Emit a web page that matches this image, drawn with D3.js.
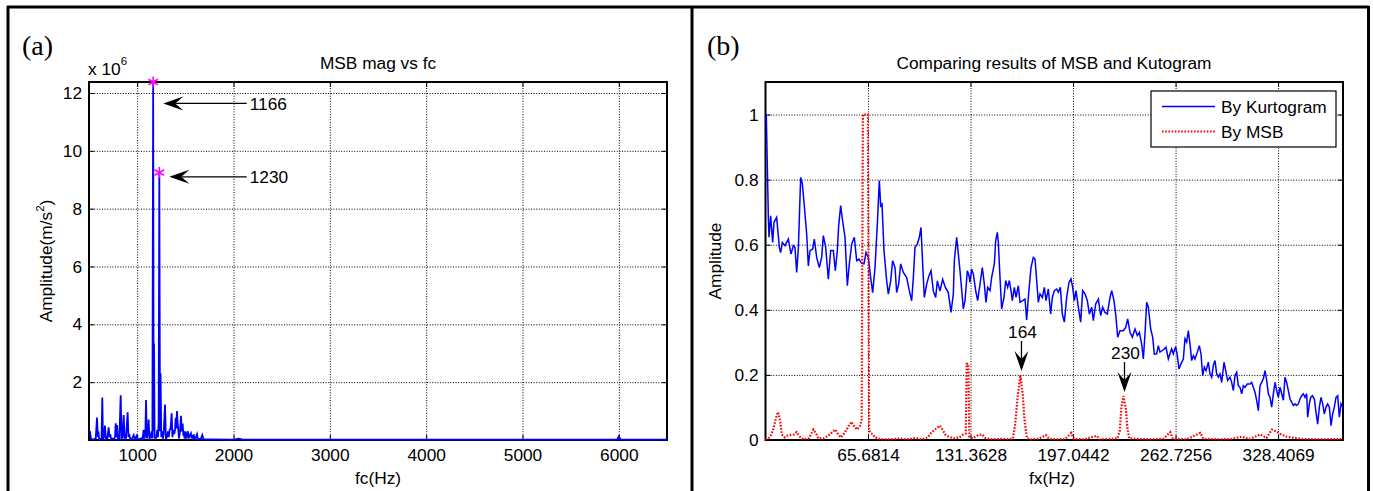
<!DOCTYPE html>
<html>
<head>
<meta charset="utf-8">
<script src="https://cdn.jsdelivr.net/npm/d3@7"></script>
<style>
  body { margin: 0; background: #fff; }
  svg { display: block; font-family: "Liberation Sans", Arial, sans-serif; font-size: 17.3px; }
</style>
</head>
<body>
<svg width="1373" height="491"></svg>
<script>
// ---- (a) MSB magnitude vs carrier frequency, values in 1e6 m/s^2 ----
const msbSpectrum = [
  [500,0.3],[510,0.29],[520,0.05],[535,0.02],[550,0.03],[570,0.05],[583,0.78],[592,0.1],[598,0.29],[605,0.02],
  [615,0.03],[630,0.05],[638,1.47],[645,0.05],[655,0.1],[666,0.5],[675,0.02],[690,0.05],[704,0.44],[712,0.1],
  [721,0.2],[730,0.02],[745,0.05],[760,0.03],[770,0.1],[777,0.58],[784,0.1],[791,0.52],[800,0.02],[815,0.05],
  [829,1.55],[838,0.05],[848,0.1],[860,0.86],[870,0.02],[885,0.08],[901,0.96],[910,0.1],[918,0.2],[928,0.02],
  [945,0.04],[964,0.17],[975,0.02],[995,0.15],[1005,0.02],[1020,0.03],[1040,0.05],[1055,0.03],[1067,0.35],[1075,0.05],
  [1085,0.2],[1092,1.38],[1100,0.05],[1110,0.2],[1119,0.71],[1128,0.05],[1140,0.1],[1150,0.3],[1158,0.05],[1166,12.38],
  [1171,0.3],[1175,3.34],[1181,0.1],[1190,0.05],[1200,0.1],[1209,0.35],[1216,0.1],[1223,0.6],[1230,9.25],[1237,0.3],
  [1243,2.3],[1250,0.1],[1258,0.3],[1266,0.05],[1275,0.2],[1289,1.23],[1298,0.05],[1310,0.1],[1320,0.3],[1328,0.1],
  [1337,0.35],[1347,0.4],[1358,0.92],[1366,0.1],[1374,0.35],[1385,0.2],[1393,0.35],[1400,0.77],[1406,0.4],[1413,1.0],
  [1420,0.6],[1427,0.35],[1434,0.05],[1445,0.3],[1455,0.84],[1463,0.3],[1472,0.57],[1480,0.15],[1486,0.2],[1493,0.05],
  [1500,0.3],[1510,0.05],[1518,0.2],[1527,0.3],[1535,0.05],[1545,0.15],[1558,0.23],[1566,0.05],[1576,0.17],[1582,0.05],
  [1586,0.2],[1596,0.03],[1608,0.08],[1621,0.2],[1630,0.03],[1645,0.04],[1660,0.03],[1676,0.17],[1690,0.02],[1750,0.02],
  [2000,0.01],[2050,0.05],[2100,0.01],[3000,0.01],[4000,0.01],[5000,0.01],[5980,0.01],[6000,0.12],[6020,0.01],[6500,0.01]
];
const peakHz = [1166, 1230];
const peakMag = [12.38, 9.25];
const fcTicks = [1000, 2000, 3000, 4000, 5000, 6000];
const magTicks = [2, 4, 6, 8, 10, 12];

// ---- (b) normalised envelope spectra ----
const kurtogram = [
  [0,1.0],[0.5,1.0],[1.82,0.684],[2.24,0.623],[3.31,0.689],[4.59,0.607],[5.45,0.669],[7.15,0.684],[8.86,0.592],[9.72,0.576],
  [10.78,0.607],[12.49,0.597],[14.63,0.617],[16.34,0.571],[17.83,0.597],[18.9,0.592],[19.97,0.515],[21.04,0.587],[22.53,0.807],[23.6,0.787],
  [24.67,0.73],[26.38,0.633],[27.44,0.535],[28.51,0.582],[30.22,0.587],[31.29,0.617],[32.78,0.561],[34.49,0.53],[35.99,0.561],[37.05,0.628],
  [38.55,0.592],[40.26,0.494],[41.75,0.582],[43.46,0.582],[44.74,0.52],[46.02,0.582],[46.88,0.658],[48.16,0.72],[49.23,0.679],[50.94,0.623],
  [52.43,0.474],[53.71,0.541],[55.21,0.602],[56.91,0.623],[58.41,0.551],[59.9,0.556],[61.61,0.543],[63.11,0.541],[64.39,0.576],[65.88,0.561],
  [67.38,0.499],[68.66,0.453],[70.16,0.53],[71.65,0.664],[72.93,0.797],[73.79,0.72],[74.64,0.725],[75.92,0.582],[77.63,0.489],[78.7,0.448],
  [80.2,0.489],[81.48,0.551],[82.97,0.53],[84.04,0.453],[85.32,0.479],[86.6,0.541],[88.31,0.515],[90.45,0.499],[92.15,0.458],[93.65,0.428],
  [94.72,0.499],[95.78,0.592],[97.28,0.602],[98.56,0.623],[99.63,0.653],[100.7,0.541],[101.76,0.438],[103.26,0.479],[104.75,0.505],[106.04,0.52],
  [107.53,0.458],[109.03,0.438],[110.09,0.489],[111.8,0.458],[113.51,0.494],[115.22,0.469],[117.14,0.453],[118.85,0.392],[120.34,0.448],[120.98,0.551],
  [122.48,0.623],[124.62,0.52],[126.75,0.403],[127.82,0.428],[129.31,0.52],[130.38,0.505],[131.02,0.484],[132.09,0.525],[133.16,0.51],[134.65,0.459],
  [135.94,0.428],[137.43,0.479],[138.92,0.53],[140.2,0.479],[141.27,0.423],[142.34,0.469],[143.84,0.459],[144.9,0.5],[146.61,0.541],[147.47,0.612],
  [148.53,0.638],[149.17,0.607],[150.24,0.5],[151.31,0.403],[152.81,0.438],[153.88,0.49],[155.16,0.469],[156.22,0.49],[157.29,0.459],[158.14,0.428],
  [159.43,0.469],[160.49,0.438],[161.99,0.474],[163.06,0.423],[164.77,0.428],[166.26,0.433],[167.33,0.369],[168.4,0.438],[170.1,0.53],[171.6,0.561],
  [172.67,0.556],[173.74,0.49],[174.8,0.423],[175.87,0.449],[177.37,0.438],[178.65,0.469],[179.72,0.428],[181.21,0.464],[182.71,0.387],[183.77,0.438],
  [185.05,0.459],[186.55,0.464],[187.62,0.454],[188.9,0.469],[190.18,0.387],[191.46,0.362],[192.96,0.438],[194.45,0.484],[195.73,0.495],[196.8,0.469],
  [197.87,0.428],[198.94,0.459],[200.43,0.408],[201.93,0.362],[203.21,0.459],[204.7,0.449],[206.2,0.428],[207.48,0.387],[208.98,0.408],[210.04,0.367],
  [211.54,0.418],[213.25,0.433],[214.74,0.382],[216.02,0.408],[217.52,0.392],[219.01,0.387],[220.72,0.438],[221.79,0.459],[223.28,0.428],[224.35,0.387],
  [225.63,0.316],[227.13,0.336],[229.26,0.336],[230.76,0.346],[232.04,0.372],[233.53,0.331],[235.03,0.316],[236.74,0.341],[238.23,0.321],[239.51,0.331],
  [241.01,0.295],[242.07,0.249],[243.14,0.326],[244.21,0.423],[245.28,0.408],[246.78,0.341],[248.06,0.316],[249.12,0.264],[250.62,0.265],[251.69,0.29],
  [252.75,0.27],[254.25,0.275],[255.53,0.28],[256.6,0.285],[258.09,0.249],[259.16,0.265],[260.23,0.28],[261.3,0.265],[262.79,0.287],[263.86,0.259],
  [264.93,0.218],[266.21,0.234],[267.7,0.249],[268.77,0.311],[269.84,0.301],[270.91,0.336],[271.98,0.295],[273.05,0.244],[274.11,0.259],[275.18,0.249],
  [276.67,0.27],[277.95,0.29],[279.02,0.265],[280.09,0.198],[281.16,0.224],[282.23,0.213],[283.72,0.239],[284.79,0.203],[285.86,0.193],[286.93,0.229],
  [288,0.244],[289.06,0.203],[290.13,0.193],[291.2,0.203],[292.27,0.177],[293.77,0.239],[294.83,0.213],[296.11,0.183],[297.6,0.193],[298.67,0.177],
  [299.74,0.152],[300.81,0.198],[301.88,0.208],[302.94,0.167],[304.01,0.162],[305.08,0.142],[306.15,0.167],[307.22,0.162],[308.71,0.172],[310.42,0.172],
  [311.49,0.177],[312.55,0.162],[313.62,0.147],[314.69,0.122],[315.76,0.09],[316.83,0.167],[317.89,0.177],[318.96,0.188],[320.03,0.213],[321.1,0.183],
  [322.17,0.142],[323.24,0.131],[324.3,0.101],[325.37,0.142],[326.44,0.177],[327.51,0.152],[328.58,0.131],[329.64,0.162],[330.71,0.142],[331.78,0.122],
  [332.84,0.193],[333.91,0.177],[334.98,0.152],[336.05,0.126],[337.12,0.116],[338.19,0.106],[339.25,0.111],[340.32,0.106],[341.39,0.111],[342.46,0.126],
  [343.53,0.136],[344.59,0.142],[345.66,0.131],[346.73,0.142],[347.37,0.07],[348.44,0.111],[349.29,0.131],[350.36,0.136],[351.64,0.126],[352.7,0.085],
  [353.77,0.049],[354.84,0.101],[355.91,0.131],[356.98,0.111],[358.04,0.08],[359.11,0.101],[360.18,0.111],[361.25,0.101],[362.32,0.044],[363.39,0.08],
  [364.45,0.101],[365.52,0.131],[366.59,0.136],[367.66,0.07],[368.72,0.111],[369.79,0.101]
];
const msbEnvelope = [
  [0,0.002],[1.8,0.004],[3.5,0.015],[4.9,0.032],[6.6,0.066],[8.05,0.086],[9.3,0.061],[10.5,0.017],[12.2,0.008],[13.8,0.013],
  [15.8,0.015],[18.2,0.017],[19.9,0.024],[21.8,0.011],[24.2,0.002],[27.8,0.005],[30.7,0.032],[32.2,0.022],[33.9,0.005],[37.5,0.005],
  [39.9,0.013],[42.3,0.022],[44.7,0.032],[46.6,0.017],[48.3,0.008],[50.7,0.022],[53.1,0.042],[55.1,0.056],[56.8,0.042],[58.7,0.032],
  [60.4,0.042],[61.6,0.06],[62.4,1.0],[65.6,1.0],[66.4,0.03],[67.6,0.02],[68.8,0.018],[70,0.008],[73.7,0.002],[80,0.002],
  [86,0.005],[90,0.002],[96,0.006],[100,0.002],[104,0.008],[106.2,0.022],[108,0.03],[109.8,0.037],[111.7,0.044],[113.4,0.032],
  [115.1,0.017],[117,0.011],[120.6,0.005],[124.3,0.008],[126.7,0.017],[128.3,0.02],[128.9,0.234],[130,0.234],[130.6,0.01],[132.7,0.005],
  [136.3,0.015],[138.7,0.017],[141.1,0.005],[146,0.002],[152,0.004],[156,0.002],[158.5,0.005],[160,0.05],[161.5,0.13],[163.3,0.2],
  [164.8,0.14],[166,0.06],[167.5,0.005],[170.1,0.002],[175,0.004],[179.7,0.015],[181.5,0.004],[186,0.002],[192,0.003],[195.9,0.022],
  [197.5,0.004],[204,0.002],[212.3,0.013],[214,0.002],[220,0.003],[225.5,0.005],[227,0.03],[228,0.1],[229.3,0.135],[230.8,0.1],
  [231.8,0.04],[233,0.005],[240,0.003],[248,0.002],[255,0.004],[259.3,0.024],[261,0.004],[270,0.002],[278.6,0.022],[280.5,0.004],
  [290,0.002],[298,0.003],[305,0.01],[310,0.003],[317,0.017],[321,0.006],[324.4,0.032],[327.5,0.026],[330.4,0.017],[334,0.01],
  [336.5,0.008],[345,0.003],[355,0.002],[370,0.003]
];
const fxTicks = [65.6814, 131.3628, 197.0442, 262.7256, 328.4069];
const fxTickLabels = ['65.6814', '131.3628', '197.0442', '262.7256', '328.4069'];
const ampTicks = [0, 0.2, 0.4, 0.6, 0.8, 1];
const ampTickLabels = ['0', '0.2', '0.4', '0.6', '0.8', '1'];
const legendNames = ['By Kurtogram', 'By MSB'];
const markedHz = [164, 230];
const markedAmp = [0.2, 0.135];

const svg = d3.select('svg');

// axes box with dotted grid and inward ticks on all sides (matlab style)
const drawFrame = (g, x, y, xt, xl, yt, yl) => {
  const [x0, x1] = x.range();
  const [y1, y0] = y.range();
  const grid = s => s.selectAll('line').attr('stroke', '#000').attr('stroke-dasharray', '1,1.6');
  g.append('g').attr('transform', `translate(0,${y1})`)
    .call(d3.axisBottom(x).tickValues(xt).tickSize(-(y1 - y0)).tickFormat(''))
    .call(s => s.select('.domain').remove()).call(grid);
  g.append('g').attr('transform', `translate(${x0},0)`)
    .call(d3.axisLeft(y).tickValues(yt).tickSize(-(x1 - x0)).tickFormat(''))
    .call(s => s.select('.domain').remove()).call(grid);

  const fix = s => { s.attr('font-size', null).attr('font-family', null); s.select('.domain').remove(); };
  g.append('g').attr('transform', `translate(0,${y1})`)
    .call(d3.axisBottom(x).tickValues(xt).tickFormat((d, i) => xl[i]).tickSize(-5).tickPadding(9)).call(fix);
  g.append('g').attr('transform', `translate(0,${y0})`)
    .call(d3.axisTop(x).tickValues(xt).tickFormat('').tickSize(-5)).call(fix);
  g.append('g').attr('transform', `translate(${x0},0)`)
    .call(d3.axisLeft(y).tickValues(yt).tickFormat((d, i) => yl[i]).tickSize(-5).tickPadding(7)).call(fix);
  g.append('g').attr('transform', `translate(${x1},0)`)
    .call(d3.axisRight(y).tickValues(yt).tickFormat('').tickSize(-5)).call(fix);
  g.selectAll('.tick text').attr('fill', '#000');

  g.append('rect').attr('x', x0).attr('y', y0).attr('width', x1 - x0).attr('height', y1 - y0)
    .attr('fill', 'none').attr('stroke', '#000').attr('stroke-width', 2);
};

// filled arrow head pointing from (ax,ay) to (bx,by)
const arrow = (g, ax, ay, bx, by) => {
  const ang = Math.atan2(by - ay, bx - ax);
  const L = 20, W = 7;
  g.append('line').attr('x1', ax).attr('y1', ay).attr('x2', bx - Math.cos(ang) * 12).attr('y2', by - Math.sin(ang) * 12)
    .attr('stroke', '#000').attr('stroke-width', 1.3);
  const pts = [[0, 0], [-L, -W], [-L * 0.6, 0], [-L, W]].map(([u, v]) =>
    [bx + u * Math.cos(ang) - v * Math.sin(ang), by + u * Math.sin(ang) + v * Math.cos(ang)]);
  g.append('polygon').attr('points', pts.map(p => p.join(',')).join(' ')).attr('fill', '#000');
};

// ---------------- panel (a) ----------------
const renderLeft = () => {
  const g = svg.append('g');
  const xScale = d3.scaleLinear().domain([500, 6500]).range([89, 667]);
  const yScale = d3.scaleLinear().domain([0, 12.38]).range([440, 82]);

  drawFrame(g, xScale, yScale, fcTicks, fcTicks.map(String), magTicks, magTicks.map(String));

  g.append('clipPath').attr('id', 'clipA').append('rect')
    .attr('x', 89).attr('y', 81).attr('width', 578).attr('height', 360);
  g.append('path').datum(msbSpectrum)
    .attr('clip-path', 'url(#clipA)')
    .attr('d', d3.line().x(d => xScale(d[0])).y(d => yScale(d[1])))
    .attr('fill', 'none').attr('stroke', '#0000ff').attr('stroke-width', 1.8);

  g.selectAll('.star').data(peakHz).enter().append('path')
    .attr('transform', (d, i) => `translate(${xScale(d)},${yScale(peakMag[i])})`)
    .attr('d', d3.symbol(d3.symbolAsterisk, 85))
    .attr('fill', 'none').attr('stroke', '#ff00ff').attr('stroke-width', 1.5);

  // annotations
  const tips = [[1271, 11.64], [1334, 9.1]];
  tips.forEach((t, i) => {
    const tx = xScale(2137), ty = yScale(t[1]);
    arrow(g, tx, ty, xScale(t[0]), ty);
    g.append('text').attr('x', tx + 3).attr('y', ty).attr('dy', '0.36em').text(peakHz[i]);
  });

  g.append('text').attr('x', 378).attr('y', 69).attr('text-anchor', 'middle').text('MSB mag vs fc');
  g.append('text').attr('x', 378).attr('y', 484).attr('text-anchor', 'middle').text('fc(Hz)');
  const ex = g.append('text').attr('x', 88).attr('y', 75);
  ex.append('tspan').text('x 10');
  ex.append('tspan').attr('font-size', '11.5px').attr('dy', -10).text('6');
  const yl = g.append('text').attr('transform', 'translate(52,261) rotate(-90)').attr('text-anchor', 'middle');
  yl.append('tspan').text('Amplitude(m/s');
  yl.append('tspan').attr('font-size', '11.5px').attr('dy', -8).text('2');
  yl.append('tspan').attr('dy', 8).text(')');
  g.append('text').attr('x', 22).attr('y', 55).attr('font-family', '"Liberation Serif", "Times New Roman", serif')
    .attr('font-size', '28px').text('(a)');
};

// ---------------- panel (b) ----------------
const renderRight = () => {
  const g = svg.append('g');
  const xScale = d3.scaleLinear().domain([0, 370]).range([765.5, 1343]);
  const yScale = d3.scaleLinear().domain([0, 1.1]).range([440, 82]);

  drawFrame(g, xScale, yScale, fxTicks, fxTickLabels, ampTicks, ampTickLabels);

  g.append('clipPath').attr('id', 'clipB').append('rect')
    .attr('x', 764).attr('y', 81).attr('width', 580).attr('height', 360);
  const line = d3.line().x(d => xScale(d[0])).y(d => yScale(d[1]));
  g.append('path').datum(kurtogram).attr('clip-path', 'url(#clipB)').attr('d', line)
    .attr('fill', 'none').attr('stroke', '#0000ff').attr('stroke-width', 1.5);
  g.append('path').datum(msbEnvelope).attr('clip-path', 'url(#clipB)').attr('d', line)
    .attr('fill', 'none').attr('stroke', '#ff0000').attr('stroke-width', 2.2).attr('stroke-dasharray', '1.6,1.6');

  markedHz.forEach((f, i) => {
    const x = xScale(f);
    const tipY = yScale(markedAmp[i]) - 4;
    arrow(g, x, tipY - 30, x, tipY);
    g.append('text').attr('x', x + 1).attr('y', tipY - 33).attr('text-anchor', 'middle').text(f);
  });

  // legend
  const lg = g.append('g');
  lg.append('rect').attr('x', 1151).attr('y', 91).attr('width', 185).attr('height', 56)
    .attr('fill', '#fff').attr('stroke', '#000').attr('stroke-width', 1.2);
  const styles = [{ c: '#0000ff', w: 1.5, dash: null }, { c: '#ff0000', w: 2, dash: '1.6,1.6' }];
  legendNames.forEach((name, i) => {
    const yy = 106.5 + i * 25;
    lg.append('line').attr('x1', 1162).attr('x2', 1215).attr('y1', yy).attr('y2', yy)
      .attr('stroke', styles[i].c).attr('stroke-width', styles[i].w).attr('stroke-dasharray', styles[i].dash);
    lg.append('text').attr('x', 1221).attr('y', yy).attr('dy', '0.36em').text(name);
  });

  g.append('text').attr('x', 1054).attr('y', 69).attr('text-anchor', 'middle').text('Comparing results of MSB and Kutogram');
  g.append('text').attr('x', 1052).attr('y', 484).attr('text-anchor', 'middle').text('fx(Hz)');
  g.append('text').attr('transform', 'translate(721,261) rotate(-90)').attr('text-anchor', 'middle').text('Amplitude');
  g.append('text').attr('x', 707).attr('y', 55).attr('font-family', '"Liberation Serif", "Times New Roman", serif')
    .attr('font-size', '28px').text('(b)');
};

// outer table frame
svg.append('rect').attr('width', 1373).attr('height', 491).attr('fill', '#fff');
[[7, 7, 1369, 7], [8, 6, 8, 491], [692, 6, 692, 491], [1368.5, 6, 1368.5, 491]].forEach(l =>
  svg.append('line').attr('x1', l[0]).attr('y1', l[1]).attr('x2', l[2]).attr('y2', l[3])
    .attr('stroke', '#000').attr('stroke-width', 3));

renderLeft();
renderRight();
</script>
</body>
</html>
